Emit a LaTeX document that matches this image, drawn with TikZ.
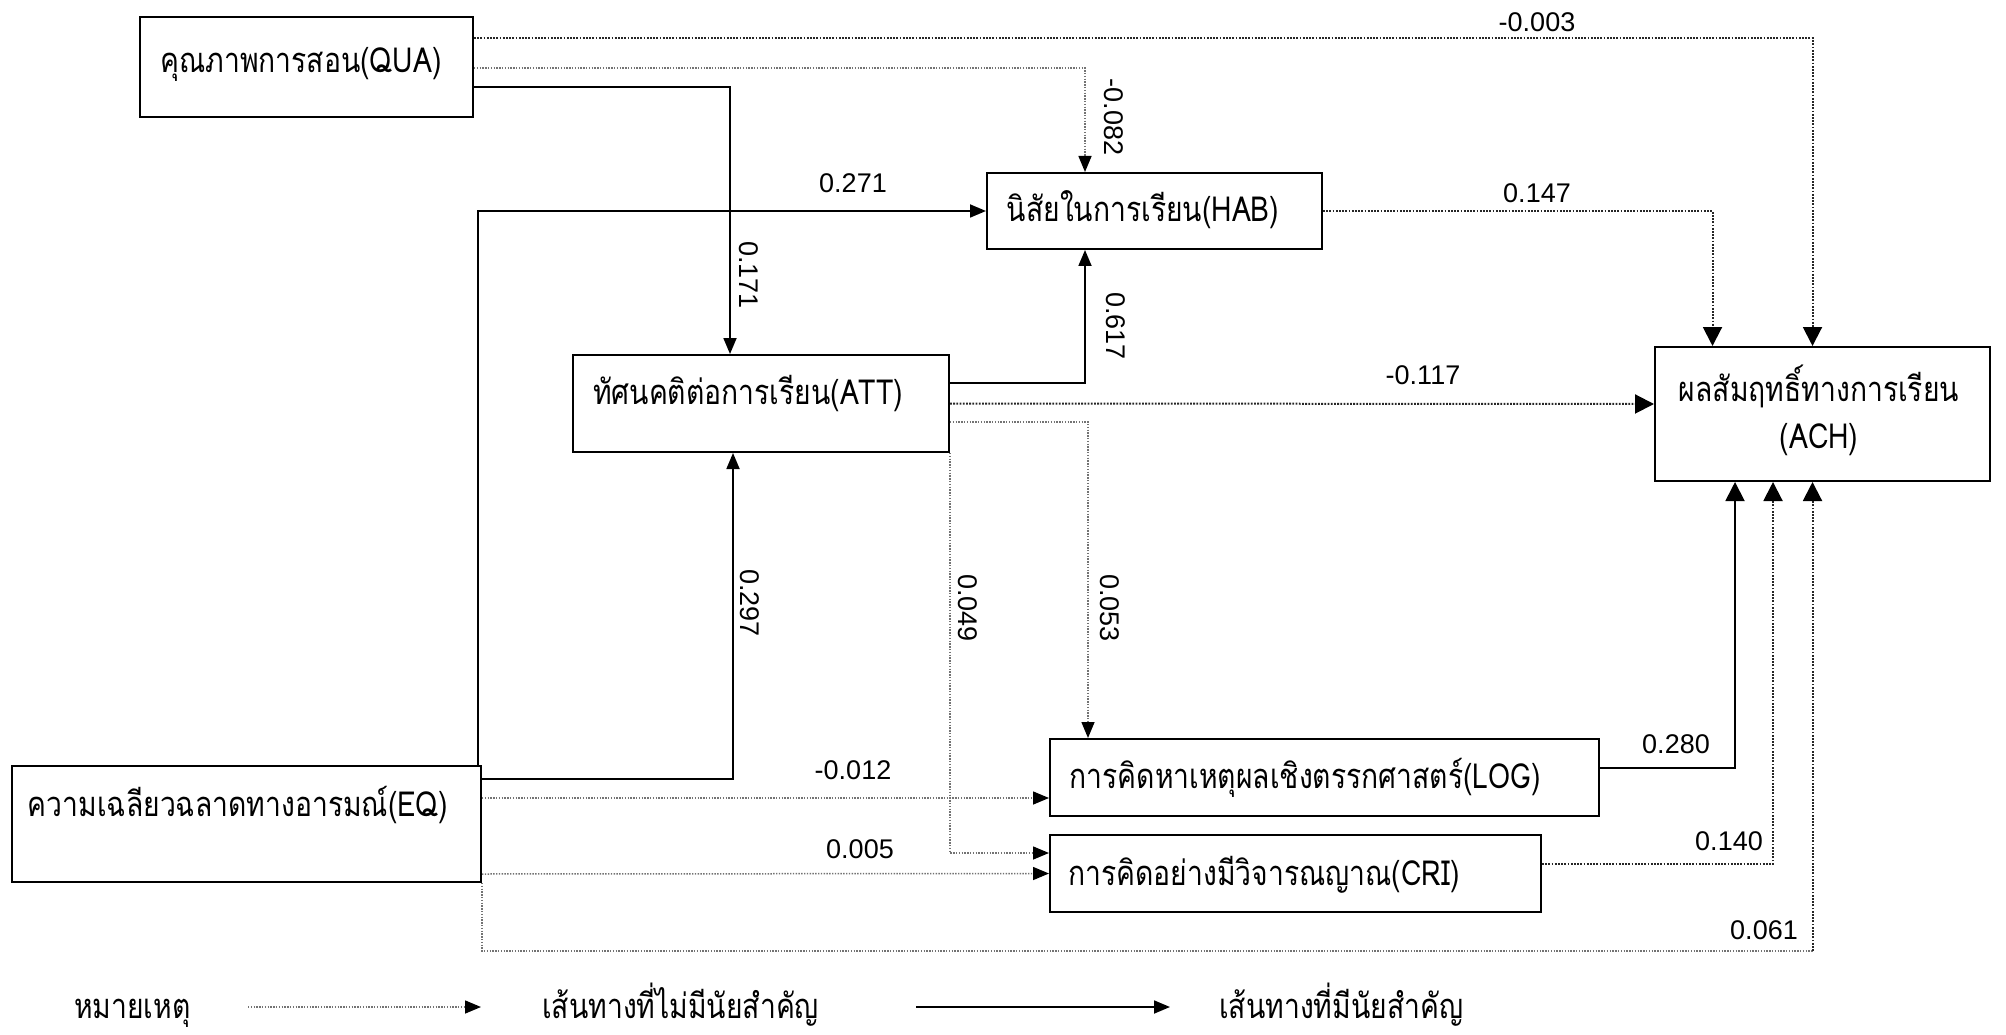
\documentclass[tikz,border=0pt]{standalone}
\usepackage{fontspec}
\newfontfamily\thaifont[Script=Thai, FakeStretch=0.82]{Loma}
\newfontfamily\numfont{Liberation Sans}
\usetikzlibrary{arrows.meta}
\begin{document}
\begin{tikzpicture}[x=1pt,y=-1pt,
  box/.style={draw, line width=2pt, inner sep=0pt},
  btxt/.style={inner sep=0pt, font=\thaifont\fontsize{34.5}{47}\selectfont, text height=22pt, text depth=0pt},
  lab/.style={inner sep=0pt, font=\numfont\fontsize{27}{30}\selectfont},
  rlab/.style={lab, rotate=-90},
  tip/.style={-{Triangle[length=16pt,width=13pt,color=black]}},
  bigtip/.style={-{Triangle[length=19pt,width=19pt,color=black]}},
  sig/.style={line width=1.8pt, black},
  nsd/.style={line width=2pt, black!85, dash pattern=on 1.8pt off 1.4pt},
  nsl/.style={line width=1.5pt, black!55, dash pattern=on 1.4pt off 1.4pt},
]
\useasboundingbox (0,0) rectangle (2006,1035);
\fill[white] (0,0) rectangle (2006,1035);

% boxes
\node[box, minimum width=333pt, minimum height=100pt] (qua) at (306.5,67) {};
\node[box, minimum width=335pt, minimum height=76pt] (hab) at (1154.5,211) {};
\node[box, minimum width=376pt, minimum height=97pt] (att) at (761,403.5) {};
\node[box, minimum width=335pt, minimum height=134pt] (ach) at (1822.5,414) {};
\node[box, minimum width=469pt, minimum height=116pt] (eq) at (246.5,824) {};
\node[box, minimum width=549pt, minimum height=77pt] (log) at (1324.5,777.5) {};
\node[box, minimum width=491pt, minimum height=77pt] (cri) at (1295.5,873.5) {};

% box texts
\node[btxt] (quat) at (301,62) {คุณภาพการสอน(QUA)};
\node[btxt] (habt) at (1143,211) {นิสัยในการเรียน(HAB)};
\node[btxt] (attt) at (748,393) {ทัศนคติต่อการเรียน(ATT)};
\node[btxt] (acht1) at (1819,390) {ผลสัมฤทธิ์ทางการเรียน};
\node[btxt] (acht2) at (1819,437) {(ACH)};
\node[btxt] (eqt) at (238,805) {ความเฉลียวฉลาดทางอารมณ์(EQ)};
\node[btxt] (logt) at (1305,777) {การคิดหาเหตุผลเชิงตรรกศาสตร์(LOG)};
\node[btxt] (crit) at (1264,874) {การคิดอย่างมีวิจารณญาณ(CRI)};

% connectors
\draw[nsd, bigtip] ([yshift=29pt]qua.east) -| ([xshift=-10pt]ach.north);
\draw[nsl, tip] ([yshift=-1pt]qua.east) -| ([xshift=-69.5pt]hab.north);
\draw[sig, tip] ([yshift=-20pt]qua.east) -| ([xshift=-31pt]att.north);
\draw[sig, tip] ([xshift=-4pt]eq.north east) |- (hab.west);
\draw[sig, tip] ([yshift=45pt]eq.east) -| ([xshift=-28pt]att.south);
\draw[nsl, tip] ([yshift=26pt]eq.east) -- ([yshift=-20.5pt]log.west);
\draw[nsl, tip] ([yshift=-50pt]eq.east) -- (cri.west);
\coordinate (c61) at (1812.5,951);
\draw[nsl] (eq.south east) |- (c61);
\draw[nsd, bigtip] (c61) -- (c61 |- ach.south);
\draw[nsd, bigtip] (hab.east) -| ([xshift=-110pt]ach.north);
\draw[sig, tip] ([yshift=20.5pt]att.east) -| ([xshift=-69.5pt]hab.south);
\draw[nsd, bigtip] (att.east) -- ([yshift=10pt]ach.west);
\draw[nsl, tip] ([yshift=-18.5pt]att.east) -| ([xshift=-236.5pt]log.north);
\draw[nsl, tip] (att.south east) |- ([yshift=20.5pt]cri.west);
\draw[sig, bigtip] ([yshift=9.5pt]log.east) -| ([xshift=-87.5pt]ach.south);
\draw[nsd, bigtip] ([yshift=9.5pt]cri.east) -| ([xshift=-49.5pt]ach.south);

% path labels
\node[lab] (l003) at (1537,22) {-0.003};
\node[rlab] (l082) at (1114,117) {-0.082};
\node[rlab] (l171) at (749,275) {0.171};
\node[lab] (l271) at (853,183) {0.271};
\node[lab] (l147) at (1537,193) {0.147};
\node[rlab] (l617) at (1116,326) {0.617};
\node[lab] (l117) at (1423,375) {-0.117};
\node[rlab] (l297) at (750,603) {0.297};
\node[rlab] (l049) at (968,608) {0.049};
\node[rlab] (l053) at (1110,608) {0.053};
\node[lab] (l012) at (853,770) {-0.012};
\node[lab] (l005) at (860,849) {0.005};
\node[lab] (l280) at (1676,744) {0.280};
\node[lab] (l140) at (1729,841) {0.140};
\node[lab] (l061) at (1764,930) {0.061};

% legend
\node[btxt, anchor=west] (legnote) at (74,1007) {หมายเหตุ};
\node[btxt, anchor=west] (legns) at (542,1007) {เส้นทางที่ไม่มีนัยสำคัญ};
\node[btxt, anchor=west] (legsig) at (1219,1007) {เส้นทางที่มีนัยสำคัญ};
\coordinate (la) at (248,1007);
\coordinate (lb) at (481,1007);
\coordinate (lc) at (916,1007);
\coordinate (ld) at (1170,1007);
\draw[nsl, tip] (la) -- (lb);
\draw[sig, tip] (lc) -- (ld);
\end{tikzpicture}
\end{document}
